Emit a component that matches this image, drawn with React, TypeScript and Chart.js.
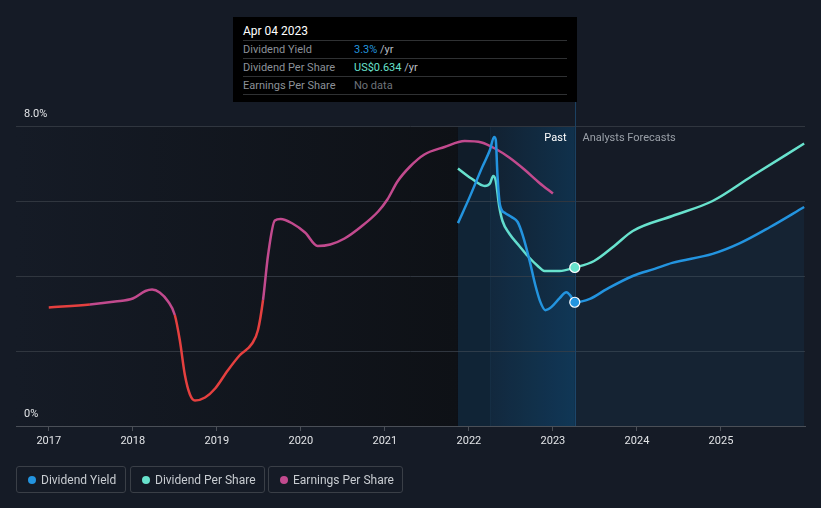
import React, { useEffect, useRef } from 'react';
import { Chart, registerables } from 'chart.js';

Chart.register(...registerables);

// ---- data ----
const yearTicks = [2017, 2018, 2019, 2020, 2021, 2022, 2023, 2024, 2025];
const xMin = 2016.61;
const xMax = 2026.0;
const todayX = 2023.26; // Apr 04 2023
const pastStart = 2021.87;
const pastMid = 2022.25;

const yieldYears = [2021.87, 2022.01, 2022.16, 2022.25, 2022.3, 2022.32, 2022.34, 2022.37, 2022.43, 2022.51, 2022.58, 2022.64, 2022.72, 2022.79, 2022.85, 2022.91, 2022.98, 2023.08, 2023.16, 2023.21, 2023.26, 2023.44, 2023.64, 2023.95, 2024.21, 2024.42, 2024.9, 2025.22, 2025.58, 2025.99];
const yieldValues = [5.41, 6.11, 6.91, 7.36, 7.71, 7.63, 6.69, 5.89, 5.68, 5.57, 5.44, 5.09, 4.43, 3.76, 3.31, 3.09, 3.17, 3.41, 3.57, 3.47, 3.3, 3.39, 3.65, 4.0, 4.19, 4.35, 4.59, 4.87, 5.3, 5.84];

const dpsYears = [2021.87, 2022.03, 2022.19, 2022.25, 2022.29, 2022.32, 2022.36, 2022.4, 2022.48, 2022.6, 2022.7, 2022.82, 2022.9, 2023.08, 2023.26, 2023.49, 2023.73, 2023.95, 2024.42, 2024.9, 2025.37, 2025.99];
const dpsValues = [1.03, 0.99, 0.96, 0.97, 1.0, 0.98, 0.88, 0.82, 0.77, 0.72, 0.68, 0.64, 0.62, 0.62, 0.634, 0.66, 0.72, 0.78, 0.84, 0.9, 1.0, 1.13];

const epsYears = [2017.0, 2017.49, 2017.79, 2018.0, 2018.15, 2018.23, 2018.32, 2018.42, 2018.5, 2018.56, 2018.62, 2018.68, 2018.74, 2018.86, 2018.98, 2019.13, 2019.27, 2019.42, 2019.49, 2019.55, 2019.61, 2019.69, 2019.76, 2019.9, 2020.05, 2020.2, 2020.35, 2020.52, 2020.72, 2020.92, 2021.03, 2021.15, 2021.3, 2021.47, 2021.71, 2021.95, 2022.15, 2022.31, 2022.48, 2022.66, 2022.84, 2023.0];
const epsValues = [0.79, 0.81, 0.83, 0.85, 0.9, 0.91, 0.89, 0.83, 0.74, 0.57, 0.34, 0.21, 0.17, 0.19, 0.25, 0.37, 0.47, 0.55, 0.64, 0.84, 1.14, 1.37, 1.38, 1.35, 1.29, 1.2, 1.21, 1.25, 1.33, 1.43, 1.51, 1.63, 1.73, 1.81, 1.86, 1.9, 1.89, 1.85, 1.79, 1.71, 1.62, 1.55];
// ranges where the EPS line is drawn red (declining)
const epsRedRanges: [number, number][] = [[2017.0, 2017.43], [2018.46, 2019.52]];

const yMax = 8;
const yTickLabels: Record<number, string> = { 0: '0%', 8: '8.0%' };

// ---- colours ----
const BG = '#151b26';
const BLUE = '#2394df';
const TEAL = '#68e2cd';
const MAGENTA = '#c24a8e';
const RED = '#e5403f';
const FONT = 'Roboto, "Noto Sans", sans-serif';

const toPts = (xs: number[], ys: number[]) => xs.map((x, i) => ({ x, y: ys[i] }));

const bgPlugin = {
  id: 'bgPlugin',
  beforeDraw(chart: any) {
    const { ctx, chartArea, scales } = chart;
    const { left, top, bottom } = chartArea;
    const x = scales.x;
    const xs = x.getPixelForValue(pastStart);
    const xm = x.getPixelForValue(pastMid);
    const xt = x.getPixelForValue(todayX);
    ctx.save();
    let g = ctx.createLinearGradient(left, 0, xs, 0);
    g.addColorStop(0, '#151b26');
    g.addColorStop(1, '#0e1116');
    ctx.fillStyle = g;
    ctx.fillRect(left, top, xs - left, bottom - top);
    ctx.fillStyle = '#101c29';
    ctx.fillRect(xs, top, xm - xs, bottom - top);
    g = ctx.createLinearGradient(xm, 0, xt, 0);
    g.addColorStop(0, '#122131');
    g.addColorStop(1, '#10314c');
    ctx.fillStyle = g;
    ctx.fillRect(xm, top, xt - xm, bottom - top);
    ctx.fillStyle = 'rgba(30,60,85,0.25)';
    ctx.fillRect(Math.round(xm), top, 1, bottom - top);
    ctx.restore();
  },
  beforeDatasetsDraw(chart: any) {
    const { ctx, chartArea, scales } = chart;
    const xt = Math.round(scales.x.getPixelForValue(todayX)) + 0.5;
    ctx.save();
    ctx.strokeStyle = '#1b4162';
    ctx.lineWidth = 1;
    ctx.beginPath();
    ctx.moveTo(xt, 100);
    ctx.lineTo(xt, chartArea.bottom);
    ctx.stroke();
    ctx.font = `11px ${FONT}`;
    ctx.textBaseline = 'middle';
    ctx.textAlign = 'right';
    ctx.fillStyle = '#ffffff';
    ctx.fillText('Past', xt - 9, chartArea.top + 12);
    ctx.textAlign = 'left';
    ctx.fillStyle = '#9aa0a8';
    ctx.fillText('Analysts Forecasts', xt + 7, chartArea.top + 12);
    ctx.restore();
  },
};

function ChartCanvas() {
  const ref = useRef<HTMLCanvasElement | null>(null);
  useEffect(() => {
    if (!ref.current) return;
    const dotRadius = (xs: number[]) => (c: any) => (xs[c.dataIndex] === todayX ? 5 : 0);
    const chart = new Chart(ref.current, {
      type: 'line',
      data: {
        datasets: [
          {
            label: 'Dividend Yield',
            data: toPts(yieldYears, yieldValues),
            borderColor: BLUE,
            backgroundColor: 'rgba(35,148,223,0.07)',
            fill: 'origin',
            borderWidth: 2.5,
            cubicInterpolationMode: 'monotone',
            pointRadius: dotRadius(yieldYears),
            pointBackgroundColor: BLUE,
            pointBorderColor: '#ffffff',
            pointBorderWidth: 1.2,
            yAxisID: 'y',
            order: 1,
          },
          {
            label: 'Dividend Per Share',
            data: toPts(dpsYears, dpsValues),
            borderColor: TEAL,
            backgroundColor: TEAL,
            fill: false,
            borderWidth: 2.5,
            cubicInterpolationMode: 'monotone',
            pointRadius: dotRadius(dpsYears),
            pointBackgroundColor: TEAL,
            pointBorderColor: '#ffffff',
            pointBorderWidth: 1.2,
            yAxisID: 'yDps',
            order: 2,
          },
          {
            label: 'Earnings Per Share',
            data: toPts(epsYears, epsValues),
            borderColor: MAGENTA,
            backgroundColor: MAGENTA,
            fill: false,
            borderWidth: 2.5,
            cubicInterpolationMode: 'monotone',
            pointRadius: 0,
            segment: {
              borderColor: (c: any) => {
                const px = c.p0.parsed.x;
                return epsRedRanges.some(([a, b]) => px >= a && px < b) ? RED : MAGENTA;
              },
            },
            yAxisID: 'yEps',
            order: 3,
          },
        ],
      },
      options: {
        animation: false,
        responsive: false,
        events: [],
        layout: { padding: { left: 16, right: 16, top: 126, bottom: 52 } },
        plugins: { legend: { display: false }, tooltip: { enabled: false } },
        scales: {
          x: {
            type: 'linear',
            min: xMin,
            max: xMax,
            afterFit: (s: any) => { s.height = 30; },
            afterBuildTicks: (s: any) => { s.ticks = yearTicks.map((v) => ({ value: v })); },
            grid: { drawOnChartArea: false, drawTicks: true, tickLength: 5, color: '#4a4f57' },
            border: { display: true, color: '#4a4f57', width: 1 },
            ticks: {
              color: '#e2e4e7',
              font: { family: FONT, size: 11 },
              padding: 4,
              maxRotation: 0,
              autoSkip: false,
              callback: (v: any) => String(v),
            },
          },
          y: {
            min: 0,
            max: yMax,
            afterFit: (s: any) => { s.width = 0; },
            afterBuildTicks: (s: any) => { s.ticks = [0, 2, 4, 6, 8].map((v) => ({ value: v })); },
            grid: { color: '#30363f', drawTicks: false, lineWidth: 1 },
            border: { display: false },
            ticks: {
              mirror: true,
              padding: 8,
              labelOffset: -12,
              color: '#e2e4e7',
              font: { family: FONT, size: 11 },
              callback: (v: any) => yTickLabels[v as number] ?? '',
            },
          },
          yDps: { display: false, min: 0, max: 1.2 },
          yEps: { display: false, min: 0, max: 2 },
        },
      },
      plugins: [bgPlugin],
    } as any);
    return () => chart.destroy();
  }, []);
  return <canvas ref={ref} width={821} height={508} style={{ position: 'absolute', left: 0, top: 0, width: 821, height: 508 }} />;
}

const rowStyle: React.CSSProperties = {
  height: 17,
  lineHeight: '17px',
  borderBottom: '1px solid #2f3133',
  display: 'flex',
  fontSize: 11,
};
const labelStyle: React.CSSProperties = { width: 111, color: '#8c9198' };

function TooltipBox() {
  return (
    <div style={{ position: 'absolute', left: 233, top: 17, width: 344, height: 85, background: '#000', boxSizing: 'border-box', padding: '6px 10px 0 10px', fontFamily: FONT }}>
      <div style={{ height: 17, lineHeight: '17px', fontSize: 12, color: '#ffffff', borderBottom: '1px solid #2f3133' }}>Apr 04 2023</div>
      <div style={rowStyle}>
        <span style={labelStyle}>Dividend Yield</span>
        <span><span style={{ color: BLUE }}>3.3%</span><span style={{ color: '#b9bdc3' }}> /yr</span></span>
      </div>
      <div style={rowStyle}>
        <span style={labelStyle}>Dividend Per Share</span>
        <span><span style={{ color: TEAL }}>US$0.634</span><span style={{ color: '#b9bdc3' }}> /yr</span></span>
      </div>
      <div style={rowStyle}>
        <span style={labelStyle}>Earnings Per Share</span>
        <span style={{ color: '#6e737a' }}>No data</span>
      </div>
    </div>
  );
}

const legendItems = [
  { label: 'Dividend Yield', color: BLUE, left: 16, width: 110 },
  { label: 'Dividend Per Share', color: TEAL, left: 130, width: 135 },
  { label: 'Earnings Per Share', color: MAGENTA, left: 268, width: 135 },
];

function Legend() {
  return (
    <>
      {legendItems.map((it) => (
        <div key={it.label} style={{ position: 'absolute', left: it.left, top: 466, width: it.width, height: 27, boxSizing: 'border-box', border: '1px solid #3a3f47', borderRadius: 3, display: 'flex', alignItems: 'center', fontFamily: FONT, fontSize: 12, color: '#c8ccd1' }}>
          <span style={{ display: 'inline-block', width: 8, height: 8, borderRadius: 4, background: it.color, marginLeft: 11, marginRight: 5 }} />
          <span>{it.label}</span>
        </div>
      ))}
    </>
  );
}

export default function App() {
  useEffect(() => {
    document.body.style.margin = '0';
    document.body.style.background = BG;
  }, []);
  return (
    <div style={{ position: 'absolute', left: 0, top: 0, width: 821, height: 508, background: BG, overflow: 'hidden' }}>
      <ChartCanvas />
      <TooltipBox />
      <Legend />
    </div>
  );
}
